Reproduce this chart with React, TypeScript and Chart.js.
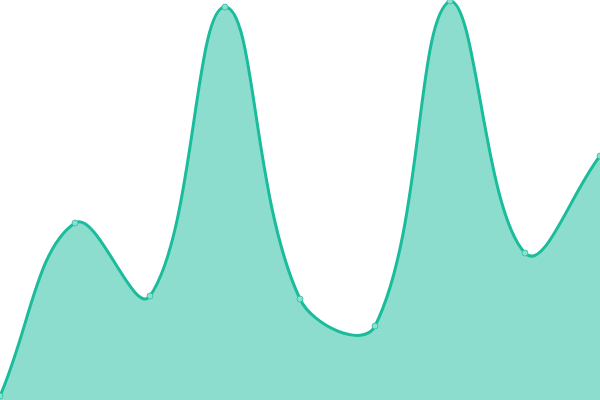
import React, { useEffect, useRef } from "react";
import { Chart, registerables } from "chart.js";

Chart.register(...registerables);

const labels = ["1", "2", "3", "4", "5", "6", "7", "8", "9"];
const values = [4, 177, 104, 393, 101, 74, 399, 147, 244];

export default function App() {
  const ref = useRef<HTMLCanvasElement | null>(null);
  useEffect(() => {
    document.body.style.margin = "0";
    const chart = new Chart(ref.current!, {
      type: "line",
      data: {
        labels,
        datasets: [
          {
            data: values,
            borderColor: "#1abc9c",
            backgroundColor: "rgba(26,188,156,0.5)",
            pointBackgroundColor: "#8ce0cf",
            pointBorderColor: "rgba(26,188,156,0.7)",
            pointRadius: 3,
            pointBorderWidth: 1,
            borderWidth: 3,
            fill: true,
            tension: 0.4,
          },
        ],
      },
      options: {
        animation: false,
        responsive: false,
        maintainAspectRatio: false,
        layout: { padding: 0, autoPadding: false },
        plugins: { legend: { display: false }, tooltip: { enabled: false } },
        scales: {
          x: { display: false, offset: false },
          y: { display: false, min: 0, max: 400 },
        },
      },
    });
    return () => chart.destroy();
  }, []);
  return (
    <div style={{ position: "fixed", left: 0, top: 0, width: 600, height: 400 }}>
      <canvas ref={ref} width={600} height={400} style={{ width: 600, height: 400 }} />
    </div>
  );
}
